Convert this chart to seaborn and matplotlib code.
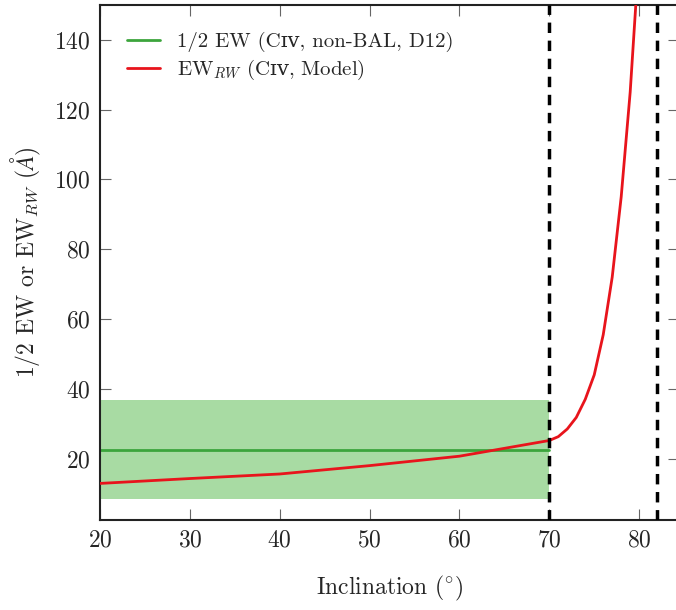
import matplotlib
matplotlib.use("Agg")
import matplotlib.pyplot as plt
import numpy as np
import pandas as pd
import seaborn as sns

sns.set_style("ticks")
plt.rcParams["font.family"] = ["cmr10", "DejaVu Serif"]
plt.rcParams["mathtext.fontset"] = "cm"
plt.rcParams["axes.formatter.use_mathtext"] = True
# only used by the one legend label that mixes math with small caps
plt.rcParams["mathtext.rm"] = "cmr10"
plt.rcParams["mathtext.it"] = "cmmi10"
plt.rcParams["mathtext.sf"] = "DejaVu Serif"

# model curve EW_RW vs inclination
incl = [20, 30, 40, 50, 60, 70, 71, 72, 73, 74, 75, 76, 77, 78, 79, 80]
ew_rw = [12.9, 14.3, 15.6, 18.0, 20.7, 25.2, 26.3, 28.5, 31.8, 37.0, 44.0,
         55.5, 72.0, 95.0, 125.0, 165.0]

# observed half EW (non-BAL, D12) with its spread
half_ew_range = [20, 70]
half_ew = 22.6
half_ew_lo = 8.4
half_ew_hi = 36.9

limits = [70, 82]

x_ticks = [20, 30, 40, 50, 60, 70, 80]
y_ticks = [20, 40, 60, 80, 100, 120, 140]

model = pd.DataFrame({"incl": incl, "ew": ew_rw})
obs = pd.DataFrame({"incl": half_ew_range, "ew": [half_ew, half_ew]})

fig = plt.figure(figsize=(6.76, 6.10), dpi=100)
ax = fig.add_axes([0.148, 0.148, 0.856, 0.844])

ax.fill_between(half_ew_range, half_ew_lo, half_ew_hi, color="#a8dba3", lw=0, zorder=1)
sns.lineplot(data=obs, x="incl", y="ew", ax=ax, color="#3ca53c", lw=2,
             label="1/2 EW (C\u026a\u1d20, non-BAL, D12)", zorder=2)
sns.lineplot(data=model, x="incl", y="ew", ax=ax, color="#e8141c", lw=2,
             label="EW$_{RW}$ (C$\\mathsf{\u026a\u1d20}$, Model)", zorder=3)
for x in limits:
    ax.axvline(x, color="black", lw=2.5, ls=(0, (3, 2.2)), zorder=4)

ax.set_xlim(20, 84.4)
ax.set_ylim(2.5, 150)
ax.set_xticks(x_ticks)
ax.set_yticks(y_ticks)
ax.tick_params(direction="in", length=8, width=0.8, color="#666666",
               top=True, right=True, labelsize=17, pad=7)
for s in ax.spines.values():
    s.set_linewidth(1.5)
    s.set_color("#222222")

ax.set_xlabel("Inclination $(^{\\circ})$", fontsize=17, labelpad=16)
ax.set_ylabel("1/2 EW or EW$_{RW}$ ($\\AA$)", fontsize=17, labelpad=8)
leg = ax.legend(loc="upper left", frameon=False, fontsize=15, handlelength=1.6,
                handletextpad=0.8, borderaxespad=0.9, labelspacing=0.3)
leg.get_texts()[1].set_math_fontfamily("custom")

fig.savefig("out.png", dpi=100)
